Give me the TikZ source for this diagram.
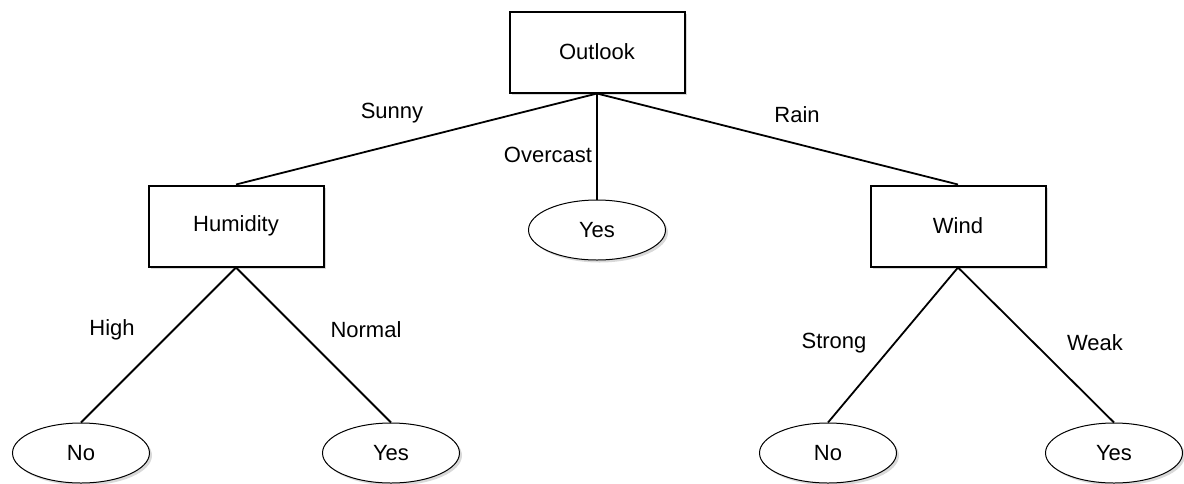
\documentclass[tikz,border=0pt]{standalone}
\usepackage{fontspec}
\setmainfont{Liberation Sans}
\usetikzlibrary{shapes.geometric,shadows}
\begin{document}
\begin{tikzpicture}[x=1pt,y=-1pt,
  font=\fontsize{22}{26}\selectfont,
  attr/.style={draw, line width=2pt, fill=white, minimum width=175pt, minimum height=81pt, inner sep=0pt,
    drop shadow={opacity=0.3, shadow xshift=2.5pt, shadow yshift=-2.5pt}},
  leaf/.style={draw, ellipse, line width=1pt, fill=white, minimum width=137pt, minimum height=60pt, inner sep=0pt,
    drop shadow={opacity=0.3, shadow xshift=2.5pt, shadow yshift=-2.5pt}},
  branch/.style={line width=1.8pt},
  lbl/.style={inner sep=0pt}]
\useasboundingbox (0,0) rectangle (1184,483);

% decision nodes
\node[attr] (outlook) at (597,52) {Outlook};
\node[attr] (humidity) at (236,226) {Humidity};
\node[attr] (wind) at (958,226) {Wind};

% leaves
\node[leaf] (yesmid) at (597,230) {Yes};
\node[leaf] (nohum) at (81,453) {No};
\node[leaf] (yeshum) at (391,453) {Yes};
\node[leaf] (nowind) at (828,453) {No};
\node[leaf] (yeswind) at (1114,453) {Yes};

% branches
\draw[branch] (outlook.south) -- (humidity.north);
\draw[branch] (outlook.south) -- (yesmid.north);
\draw[branch] (outlook.south) -- (wind.north);
\draw[branch] (humidity.south) -- (nohum.north);
\draw[branch] (humidity.south) -- (yeshum.north);
\draw[branch] (wind.south) -- (nowind.north);
\draw[branch] (wind.south) -- (yeswind.north);

% branch labels
\node[lbl] (sunny) at (392,113) {Sunny};
\node[lbl] (overcast) at (548,155) {Overcast};
\node[lbl] (rain) at (797,115) {Rain};
\node[lbl] (high) at (112,330) {High};
\node[lbl] (normal) at (366,330) {Normal};
\node[lbl] (strong) at (834,343) {Strong};
\node[lbl] (weak) at (1095,343) {Weak};
\end{tikzpicture}
\end{document}
